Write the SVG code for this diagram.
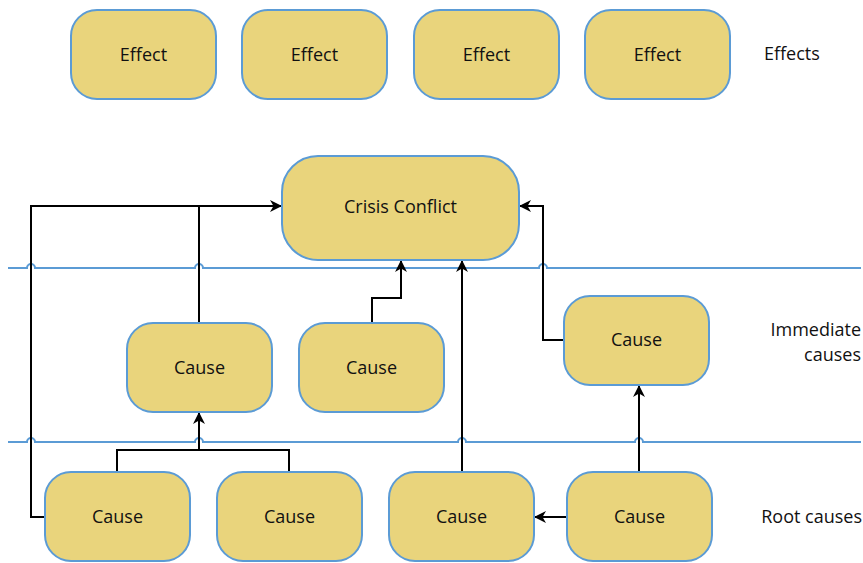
<svg xmlns="http://www.w3.org/2000/svg" width="863" height="563" viewBox="0 0 863 563">
<style>
.box{fill:#e9d47c;stroke:#5b9bd5;stroke-width:2}
.t{font-family:"Open Sans","Liberation Sans",sans-serif;font-size:18px;fill:#111;text-anchor:middle;dominant-baseline:central}
.lbl{font-family:"Open Sans","Liberation Sans",sans-serif;font-size:18px;fill:#111}
.sep{fill:none;stroke:#5b9bd5;stroke-width:2}
.c{fill:none;stroke:#000;stroke-width:2}
.a{marker-end:url(#arr)}
</style>
<defs>
<marker id="arr" viewBox="0 0 12 12" refX="11" refY="6" markerWidth="12" markerHeight="12" markerUnits="userSpaceOnUse" orient="auto">
<path d="M0,0 L12,6 L0,12 L3.5,6 z" fill="#000"/>
</marker>
</defs>
<g id="separators">
<path class="sep" d="M8 268 H27 a4 4 0 0 1 8 0 H195 a4 4 0 0 1 8 0 H539 a4 4 0 0 1 8 0 H861"/>
<path class="sep" d="M8 442 H27 a4 4 0 0 1 8 0 H195 a4 4 0 0 1 8 0 H458 a4 4 0 0 1 8 0 H635 a4 4 0 0 1 8 0 H861"/>
</g>
<g id="connectors">
<path class="c a" d="M45 517 H31 V206 H281"/>
<path class="c" d="M199 323 V206"/>
<path class="c a" d="M372 323 V298 H401 V261"/>
<path class="c a" d="M462 472 V261"/>
<path class="c a" d="M564 340 H543 V206 H520"/>
<path class="c a" d="M639 472 V386"/>
<path class="c a" d="M567 517 H535"/>
<path class="c" d="M117 472 V450 H289 V472"/>
<path class="c a" d="M199 450 V413"/>
</g>
<g id="effect1"><rect class="box" x="71" y="10" width="145" height="89" rx="26"/><text class="t" x="143.5" y="53.5">Effect</text></g>
<g id="effect2"><rect class="box" x="242" y="10" width="145" height="89" rx="26"/><text class="t" x="314.5" y="53.5">Effect</text></g>
<g id="effect3"><rect class="box" x="414" y="10" width="145" height="89" rx="26"/><text class="t" x="486.5" y="53.5">Effect</text></g>
<g id="effect4"><rect class="box" x="585" y="10" width="145" height="89" rx="26"/><text class="t" x="657.5" y="53.5">Effect</text></g>
<g id="crisis"><rect class="box" x="282" y="156" width="237" height="104" rx="36"/><text class="t" x="400.5" y="206">Crisis Conflict</text></g>
<g id="imm1"><rect class="box" x="127" y="323" width="145" height="89" rx="26"/><text class="t" x="199.5" y="367">Cause</text></g>
<g id="imm2"><rect class="box" x="299" y="323" width="145" height="89" rx="26"/><text class="t" x="371.5" y="367">Cause</text></g>
<g id="imm3"><rect class="box" x="564" y="296" width="145" height="89" rx="26"/><text class="t" x="636.5" y="339">Cause</text></g>
<g id="root1"><rect class="box" x="45" y="472" width="145" height="89" rx="26"/><text class="t" x="117.5" y="516">Cause</text></g>
<g id="root2"><rect class="box" x="217" y="472" width="145" height="89" rx="26"/><text class="t" x="289.5" y="516">Cause</text></g>
<g id="root3"><rect class="box" x="389" y="472" width="145" height="89" rx="26"/><text class="t" x="461.5" y="516">Cause</text></g>
<g id="root4"><rect class="box" x="567" y="472" width="145" height="89" rx="26"/><text class="t" x="639.5" y="516">Cause</text></g>
<g id="labels">
<text class="lbl" x="764" y="60">Effects</text>
<text class="lbl" x="861" y="336" text-anchor="end">Immediate</text>
<text class="lbl" x="861" y="361" text-anchor="end">causes</text>
<text class="lbl" x="862" y="523" text-anchor="end">Root causes</text>
</g>
</svg>
